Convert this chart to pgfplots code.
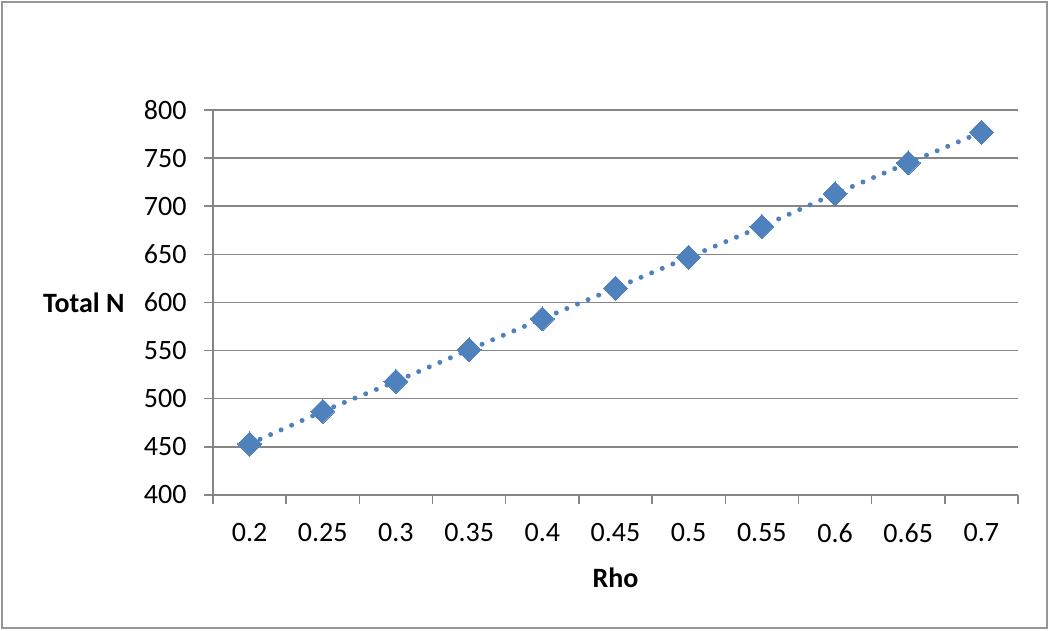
\documentclass[border=0pt]{standalone}
\usepackage{fontspec}
\setmainfont{Carlito}
\usepackage{pgfplots}
\pgfplotsset{compat=1.18}
\definecolor{excelblue}{RGB}{79,129,189}
\definecolor{axisgray}{RGB}{134,134,134}
\definecolor{framegray}{RGB}{150,150,150}

\pgfplotstableread{
idx rho N
0  0.20 453
1  0.25 487
2  0.30 518
3  0.35 551
4  0.40 583
5  0.45 615
6  0.50 647
7  0.55 679
8  0.60 713
9  0.65 745
10 0.70 777
}\datatable

\begin{document}
\begin{tikzpicture}
% page size and outer frame (1 px = 1 pt, origin at the axis's lower left)
\path[use as bounding box] (-213pt,-136pt) rectangle (837pt,495pt);
\draw[framegray, line width=1.5pt] (-211pt,-133pt) rectangle (834pt,493pt);
\begin{axis}[
    at={(0,0)}, anchor=south west,
    scale only axis,
    width=805pt, height=385pt,
    xmin=-0.5, xmax=10.5,
    ymin=400, ymax=800,
    ytick={400,450,...,800},
    xtick={-0.5,0.5,...,10.5},
    xticklabels={},
    extra x ticks={0,1,2,3,4,5,6,7,8,9,10},
    extra x tick labels={0.2,0.25,0.3,0.35,0.4,0.45,0.5,0.55,0.6,0.65,0.7},
    extra x tick style={major tick length=0pt, grid=none},
    axis lines*=left,
    axis line style={axisgray, line width=1.5pt},
    tick align=outside,
    major tick length=9pt,
    tick style={axisgray, line width=1.5pt},
    ymajorgrids,
    grid style={axisgray, line width=1.5pt},
    tick label style={font=\fontsize{28}{34}\selectfont, text=black},
    /pgf/number format/assume math mode=true,
    xticklabel style={yshift=-25pt},
    yticklabel style={xshift=-14pt},
    xlabel={\textbf{Rho}},
    ylabel={\textbf{Total N}},
    every axis x label/.style={at={(axis description cs:0.5,0)}, anchor=center,
        yshift=-83pt, font=\fontsize{28}{34}\selectfont},
    every axis y label/.style={at={(axis description cs:0,0.5)}, anchor=east,
        xshift=-85pt, font=\fontsize{28}{34}\selectfont},
    clip=false,
]
\addplot[excelblue, line width=5pt, line cap=round, dash pattern=on 0pt off 11.5pt,
    mark=square*, mark size=8.5pt,
    mark options={solid, rotate=45, fill=excelblue, draw=excelblue, line width=0pt}]
    table[x=idx, y=N] {\datatable};
\end{axis}
\end{tikzpicture}
\end{document}
